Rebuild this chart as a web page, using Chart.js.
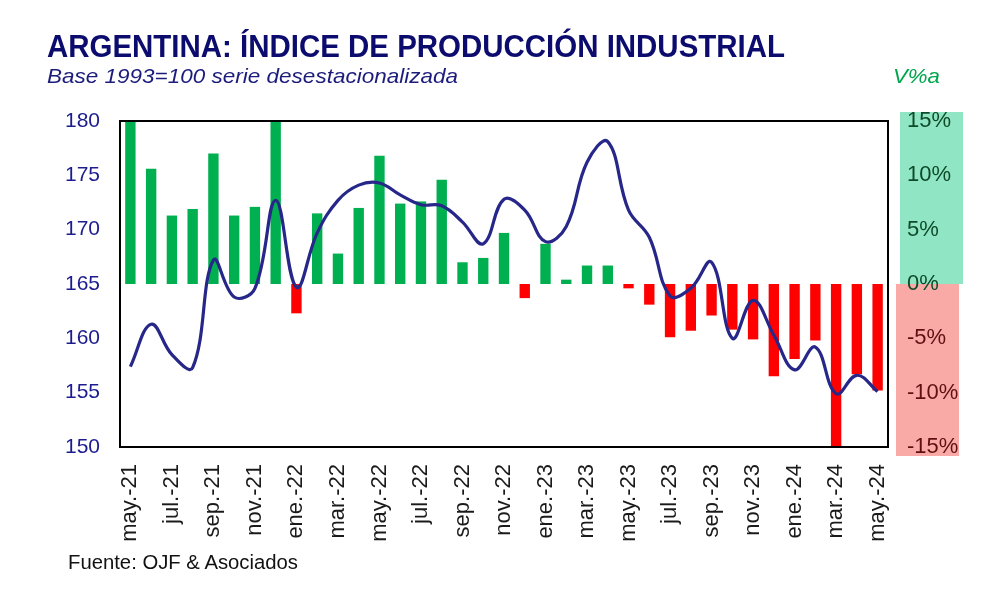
<!DOCTYPE html>
<html>
<head>
<meta charset="utf-8">
<script src="https://cdn.jsdelivr.net/npm/chart.js@4.4.1/dist/chart.umd.min.js"></script>
<style>
  html, body { margin:0; padding:0; background:#fff; }
  #wrap { position:relative; width:992px; height:606px; overflow:hidden; }
  canvas { position:absolute; left:0; top:0; }
  .t { position:absolute; white-space:nowrap; line-height:1; transform-origin:left top; font-family:"Liberation Sans", Arial, sans-serif; }
  #title { left:47px; top:30px; font-size:32px; font-weight:bold; color:#0c0c6e; font-family:"Liberation Sans Narrow","Liberation Sans",Arial,sans-serif; }
  #sub { left:47px; top:65px; font-size:21px; font-style:italic; color:#1c1c7c; font-family:"Liberation Sans Narrow","Liberation Sans",Arial,sans-serif; }
  #vpa { left:893px; top:65px; font-size:21px; font-style:italic; color:#00a64f; font-family:"Liberation Sans Narrow","Liberation Sans",Arial,sans-serif; }
  #foot { left:68px; top:552px; font-size:20px; color:#111; }
</style>
</head>
<body>
<div id="wrap">
  <canvas id="c" width="992" height="606"></canvas>
  <div class="t" id="title">ARGENTINA: ÍNDICE DE PRODUCCIÓN INDUSTRIAL</div>
  <div class="t" id="sub">Base 1993=100 serie desestacionalizada</div>
  <div class="t" id="vpa">V%a</div>
  <div class="t" id="foot">Fuente: OJF &amp; Asociados</div>
</div>
<script>
// ---- data ----
const months = [
  "may.-21","jun.-21","jul.-21","ago.-21","sep.-21","oct.-21","nov.-21","dic.-21",
  "ene.-22","feb.-22","mar.-22","abr.-22","may.-22","jun.-22","jul.-22","ago.-22","sep.-22","oct.-22","nov.-22","dic.-22",
  "ene.-23","feb.-23","mar.-23","abr.-23","may.-23","jun.-23","jul.-23","ago.-23","sep.-23","oct.-23","nov.-23","dic.-23",
  "ene.-24","feb.-24","mar.-24","abr.-24","may.-24"
];
// Year-on-year variation (%), right axis
const variacionAnual = [
  20, 10.6, 6.3, 6.9, 12.0, 6.3, 7.1, 16,
  -2.7, 6.5, 2.8, 7.0, 11.8, 7.4, 7.6, 9.6, 2.0, 2.4, 4.7, -1.3,
  3.7, 0.4, 1.7, 1.7, -0.4, -1.9, -4.9, -4.3, -2.9, -4.2, -5.1, -8.5,
  -6.9, -5.2, -17, -8.3, -9.8
];
// Index, base 1993=100, seasonally adjusted (left axis)
const indice = [
  157.4, 161.3, 158.5, 157.3, 167.2, 163.8, 164.6, 172.7,
  164.7, 169.7, 172.7, 174.1, 174.3, 173.2, 172.3, 172.2, 170.7, 168.7, 172.8, 171.8,
  168.9, 170.3, 176.2, 178.1, 171.8, 169.3, 163.9, 164.6, 167.0, 160.0, 163.5, 160.3,
  157.1, 159.2, 154.9, 156.6, 155.1
];
const leftTicks = [150, 155, 160, 165, 170, 175, 180];
const rightTicks = [-15, -10, -5, 0, 5, 10, 15];

const fontFam = '"Liberation Sans", Arial, sans-serif';

const decorPlugin = {
  id: 'decor',
  beforeDraw(chart) {
    const ctx = chart.ctx, y1 = chart.scales.y1;
    const top = y1.getPixelForValue(15), zero = y1.getPixelForValue(0), bot = y1.getPixelForValue(-15);
    ctx.save();
    ctx.fillStyle = '#8fe5c4';
    ctx.fillRect(900, top - 9, 63, zero - top + 9);
    ctx.fillStyle = '#f9aaa6';
    ctx.fillRect(896, zero, 63, bot - zero + 9);
    ctx.restore();
  },
  afterDraw(chart) {
    const ctx = chart.ctx, a = chart.chartArea;
    ctx.save();
    ctx.strokeStyle = '#000';
    ctx.lineWidth = 2;
    ctx.strokeRect(a.left, a.top, a.right - a.left, a.bottom - a.top);
    ctx.restore();
  }
};

new Chart(document.getElementById('c'), {
  type: 'bar',
  data: {
    labels: months,
    datasets: [
      {
        type: 'line',
        label: 'Índice',
        data: indice,
        yAxisID: 'y',
        borderColor: '#27278a',
        borderWidth: 3.2,
        pointRadius: 0,
        tension: 0.4,
        fill: false,
        order: 0
      },
      {
        type: 'bar',
        label: 'V%a',
        data: variacionAnual,
        yAxisID: 'y1',
        backgroundColor: variacionAnual.map(v => v >= 0 ? '#00b050' : '#ff0000'),
        barPercentage: 1,
        categoryPercentage: 0.5,
        order: 1
      }
    ]
  },
  options: {
    responsive: false,
    animation: false,
    devicePixelRatio: 1,
    layout: { padding: { top: 121, bottom: 59, left: 0, right: 0 } },
    plugins: { legend: { display: false }, tooltip: { enabled: false }, title: { display: false } },
    scales: {
      x: {
        grid: { display: false },
        border: { display: false },
        ticks: {
          autoSkip: false, maxRotation: 90, minRotation: 90, padding: 9,
          color: '#1a1a1a', font: { family: fontFam, size: 22 },
          callback: (v, i) => i % 2 === 0 ? months[i] : ''
        },
        afterFit: s => { s.height = 100; }
      },
      y: {
        position: 'left', min: 150, max: 180,
        grid: { display: false }, border: { display: false },
        afterBuildTicks: s => { s.ticks = leftTicks.map(v => ({ value: v })); },
        ticks: { padding: 12, color: '#1c1c8e', font: { family: fontFam, size: 21 } },
        afterFit: s => { s.width = 120; }
      },
      y1: {
        position: 'right', min: -15, max: 15,
        grid: { display: false }, border: { display: false },
        afterBuildTicks: s => { s.ticks = rightTicks.map(v => ({ value: v })); },
        ticks: {
          padding: 11, font: { family: fontFam, size: 22 },
          color: c => c.tick && c.tick.value >= 0 ? '#0f4a28' : '#5e1010',
          callback: v => v + '%'
        },
        afterFit: s => { s.width = 104; }
      }
    }
  },
  plugins: [decorPlugin]
});

function fit(id, w) {
  const el = document.getElementById(id);
  const r = el.getBoundingClientRect().width;
  if (r > 0) el.style.transform = 'scaleX(' + (w / r) + ')';
}
fit('title', 738);
fit('sub', 411);
fit('vpa', 47);
fit('foot', 230);
</script>
</body>
</html>
